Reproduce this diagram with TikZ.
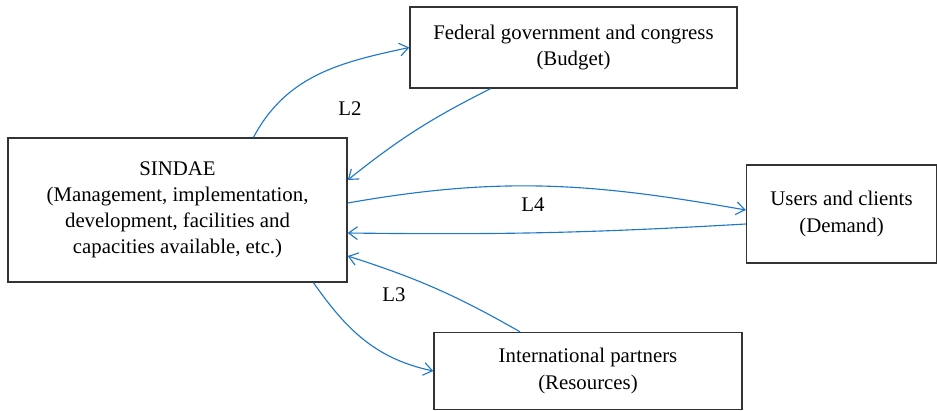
\documentclass[tikz,border=0pt]{standalone}
\usepackage{fontspec}
\setmainfont{Liberation Serif}
\usetikzlibrary{arrows.meta,calc}
\definecolor{linkblue}{RGB}{30,120,200}
\newlength\px
\setlength\px{0.025cm}
\begin{document}
\begin{tikzpicture}[x=0.025cm,y=0.025cm,
actor/.style={draw=black!80,line width=1pt,align=center,inner sep=0pt,
  font=\fontsize{14.8}{18.6}\selectfont},
link/.style={draw=linkblue,line width=0.8pt,-{Straight Barb[length=2.2mm,width=3.2mm]}}
]
\fontsize{14.8}{18.6}\selectfont
\useasboundingbox (0,0) rectangle (937,410);
\node[actor,minimum width=339\px,minimum height=144\px] (sindae) at (177.5,200)
  {SINDAE\\(Management, implementation,\\development, facilities and\\capacities available, etc.)};
\node[actor,minimum width=327\px,minimum height=81\px] (federal) at (573.5,362.5)
  {Federal government and congress\\(Budget)};
\node[actor,minimum width=190\px,minimum height=98\px] (users) at (841.5,196)
  {Users and clients\\(Demand)};
\node[actor,minimum width=308\px,minimum height=77\px] (intl) at (588,39)
  {International partners\\(Resources)};
% links
\draw[link] ([xshift=76\px]sindae.north) to[out=62,in=192] (federal.west);
\draw[link] ([xshift=-83\px]federal.south) to[bend right=6] ([yshift=30\px]sindae.east);
\draw[link] ([yshift=7\px]sindae.east) to[out=10,in=170] ([yshift=4\px]users.west);
\draw[link] ([yshift=-10\px]users.west) to[bend left=2] ([yshift=-23\px]sindae.east);
\draw[link] ([xshift=-68\px]intl.north) to[bend right=6] ([yshift=-46\px]sindae.east);
\draw[link] ([xshift=136\px]sindae.south) to[out=-55,in=168] (intl.west);
\node (ltwo) at (350,301) {L2};
\node (lfour) at (533,205) {L4};
\node (lthree) at (394,115) {L3};
\end{tikzpicture}
\end{document}
